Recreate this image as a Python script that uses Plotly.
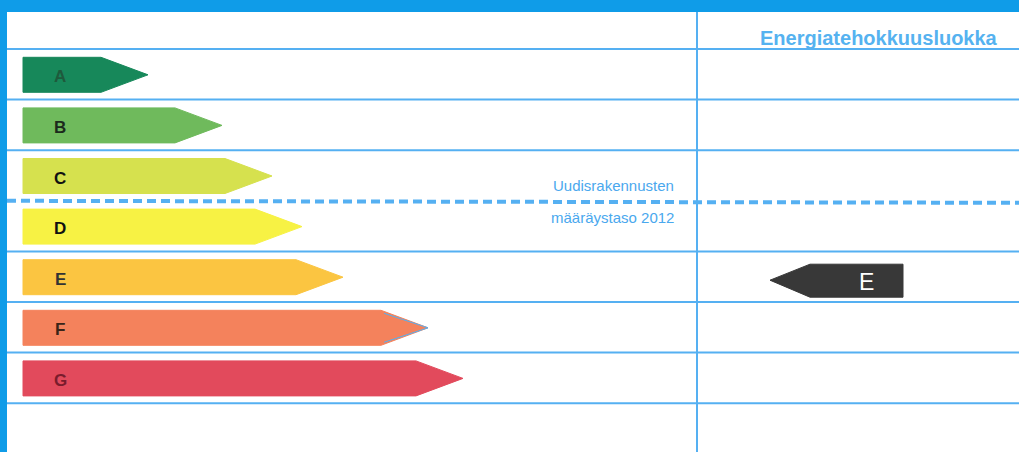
import plotly.graph_objects as go

# ---- data ----
classes = ["A", "B", "C", "D", "E", "F", "G"]
arrow_tips = [148, 222, 272, 302, 343, 428, 463]          # arrow length (tip position)
arrow_colors = ["#17885a", "#6fba5c", "#d6e14e", "#f7f244", "#fbc541", "#f4825c", "#e24a5c"]
letter_colors = ["#1e5a3c", "#1c2a1c", "#111111", "#111111", "#333333", "#3a2418", "#7a1c2c"]
current_class = "E"
threshold_after = "C"   # new building requirement level 2012 lies between C and D
header_text = "Energiatehokkuusluokka"
threshold_text = ["Uudisrakennusten", "määräystaso 2012"]

# ---- layout constants ----
W, H = 1019, 452
row_top0 = 49
row_h = 50.6
bar_h = 35
x_left = 23
tip_len = 47
col_x = 697
blue_line = "#55b0f2"
blue_text = "#4aa8ee"

fig = go.Figure()

def row_center(i):
    return row_top0 + row_h * (i + 0.5) + 0.5

shapes = []
# frame bands
shapes.append(dict(type="rect", xref="x", yref="y", x0=0, x1=W, y0=0, y1=12,
                   fillcolor="#0f9ce8", line_width=0, layer="above"))
shapes.append(dict(type="rect", xref="x", yref="y", x0=0, x1=7, y0=0, y1=H,
                   fillcolor="#0f9ce8", line_width=0, layer="above"))
# horizontal row lines
ti = classes.index(threshold_after)
for k in range(len(classes) + 1):
    if k == ti + 1:
        continue
    y = row_top0 + row_h * k
    shapes.append(dict(type="line", xref="x", yref="y", x0=7, x1=W, y0=y, y1=y,
                       line=dict(color=blue_line, width=2)))
# dashed threshold line
yd = row_top0 + row_h * (ti + 1)
shapes.append(dict(type="line", xref="x", yref="y", x0=7, x1=W, y0=yd, y1=yd + 2,
                   line=dict(color=blue_line, width=4, dash="9px,5px")))
# vertical column line
shapes.append(dict(type="line", xref="x", yref="y", x0=col_x, x1=col_x, y0=12, y1=H,
                   line=dict(color=blue_line, width=2)))

# class arrows
for i, (c, tip, col, lc) in enumerate(zip(classes, arrow_tips, arrow_colors, letter_colors)):
    yc = row_center(i)
    top, bot = yc - bar_h / 2, yc + bar_h / 2
    be = tip - tip_len
    fig.add_trace(go.Scatter(
        x=[x_left, be, tip, be, x_left, x_left],
        y=[top, top, yc, bot, bot, top],
        mode="lines", fill="toself", fillcolor=col,
        line=dict(color=col, width=1), hoverinfo="skip", showlegend=False))
    fig.add_annotation(x=60, y=yc + 2, text=f"<b>{c}</b>", showarrow=False,
                       font=dict(family="Liberation Sans, Arial", size=17, color=lc),
                       xanchor="center", yanchor="middle")
    if c == "F":
        fig.add_trace(go.Scatter(
            x=[be + 3, tip, be + 3], y=[top + 3, yc, bot - 3], mode="lines",
            line=dict(color=blue_line, width=1), hoverinfo="skip", showlegend=False))

# current class indicator
ci = classes.index(current_class)
yc = row_center(ci) + 3
ind_tip, ind_body, ind_right = 770, 810, 903
fig.add_trace(go.Scatter(
    x=[ind_tip, ind_body, ind_right, ind_right, ind_body, ind_tip],
    y=[yc, yc - 16, yc - 16, yc + 17, yc + 17, yc],
    mode="lines", fill="toself", fillcolor="#383838",
    line=dict(color="#383838", width=1), hoverinfo="skip", showlegend=False))
fig.add_annotation(x=866, y=yc + 2, text=current_class, showarrow=False,
                   font=dict(family="Liberation Sans, Arial", size=23, color="white"),
                   xanchor="center", yanchor="middle")

# header
fig.add_annotation(x=879, y=38, text=f"<b>{header_text}</b>", showarrow=False,
                   font=dict(family="Liberation Sans, Arial", size=20, color="#55b2f0"),
                   xanchor="center", yanchor="middle")
# threshold text
fig.add_annotation(x=676, y=yd - 15, text=threshold_text[0], showarrow=False,
                   font=dict(family="Liberation Sans, Arial", size=15, color=blue_text),
                   xanchor="right", yanchor="middle")
fig.add_annotation(x=676, y=yd + 17, text=threshold_text[1], showarrow=False,
                   font=dict(family="Liberation Sans, Arial", size=15, color=blue_text),
                   xanchor="right", yanchor="middle")

fig.update_layout(
    width=W, height=H, margin=dict(l=0, r=0, t=0, b=0),
    paper_bgcolor="white", plot_bgcolor="white", shapes=shapes,
    xaxis=dict(range=[0, W], visible=False, fixedrange=True),
    yaxis=dict(range=[H, 0], visible=False, fixedrange=True),
    showlegend=False,
)
fig.write_html("out.html", config={"displayModeBar": False})
